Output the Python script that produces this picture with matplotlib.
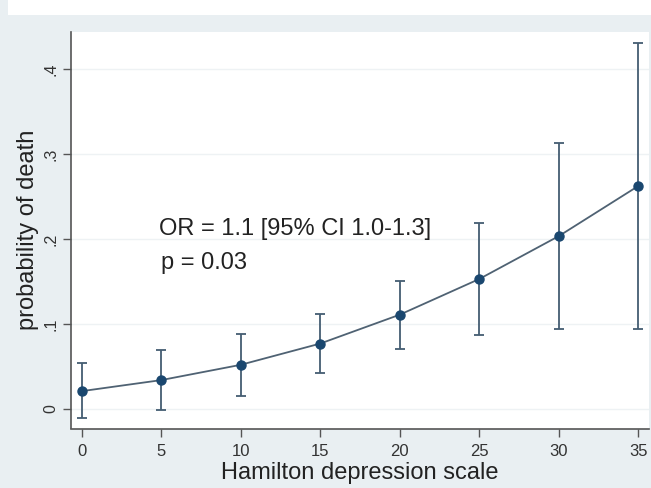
import matplotlib
matplotlib.use("Agg")
import matplotlib.pyplot as plt
from matplotlib.patches import Rectangle

# Data
hamilton = [0, 5, 10, 15, 20, 25, 30, 35]
prob = [0.021, 0.034, 0.052, 0.077, 0.111, 0.153, 0.2035, 0.2625]
ci_low = [-0.011, -0.0016, 0.0153, 0.0424, 0.0706, 0.0875, 0.0937, 0.0937]
ci_high = [0.054, 0.0694, 0.0882, 0.1122, 0.1502, 0.2185, 0.3133, 0.431]
xticks = [0, 5, 10, 15, 20, 25, 30, 35]
yticks = [0, 0.1, 0.2, 0.3, 0.4]
ytick_labels = ["0", ".1", ".2", ".3", ".4"]
annot_line1 = "OR = 1.1 [95% CI 1.0-1.3]"
annot_line2 = "p = 0.03"

plt.rcParams['font.family'] = ['Liberation Sans', 'DejaVu Sans']

W, H = 651, 488
fig = plt.figure(figsize=(W / 100, H / 100), dpi=100)
bg = '#e9eff2'
fig.patch.set_facecolor(bg)

# top white band
fig.patches.append(Rectangle((8 / W, (H - 15) / H), 1 - 8 / W, 15 / H,
                             transform=fig.transFigure, facecolor='white',
                             edgecolor='none', zorder=0))

left, right, top, bottom = 71, 649, 32, 428.5
ax = fig.add_axes([left / W, (H - bottom) / H, (right - left) / W, (bottom - top) / H])
ax.set_facecolor('white')

ax.set_xlim(-0.66, 35.66)
ax.set_ylim(-0.0229, 0.4435)

for y in yticks:
    ax.axhline(y, color='#eef2f4', lw=1.0, zorder=0)

line_col = '#4f6273'
mark_col = '#1a476f'
yerr = [[p - lo for p, lo in zip(prob, ci_low)], [hi - p for p, hi in zip(prob, ci_high)]]
ax.errorbar(hamilton, prob, yerr=yerr, fmt='none', ecolor='#445d72',
            elinewidth=1.3, capsize=3.5, capthick=1.3, zorder=2)
ax.plot(hamilton, prob, color=line_col, lw=1.3, zorder=3)
ax.plot(hamilton, prob, 'o', color=mark_col, markersize=6.5, zorder=4)

ax.set_xticks(xticks)
ax.set_xticklabels([str(t) for t in xticks], fontsize=12, color='#333333')
ax.set_yticks(yticks)
ax.set_yticklabels(ytick_labels, fontsize=11.5, rotation=90, va='center', color='#333333')
ax.tick_params(axis='both', length=6, width=1, color='#555555', direction='out')
ax.tick_params(axis='x', pad=5)
ax.tick_params(axis='y', pad=3)

for s in ['top', 'right']:
    ax.spines[s].set_visible(False)
for s in ['left', 'bottom']:
    ax.spines[s].set_color('#555555')
    ax.spines[s].set_linewidth(1.2)

ax.set_xlabel('Hamilton depression scale', fontsize=17, color='#222222', labelpad=2)
ax.set_ylabel('probability of death', fontsize=17, color='#222222', labelpad=3)

ax.text(4.9, 0.212, annot_line1, fontsize=17, color='#222222', va='center', ha='left')
ax.text(5.0, 0.172, annot_line2, fontsize=17, color='#222222', va='center', ha='left')

fig.savefig('out.png', dpi=100, facecolor=fig.get_facecolor())
